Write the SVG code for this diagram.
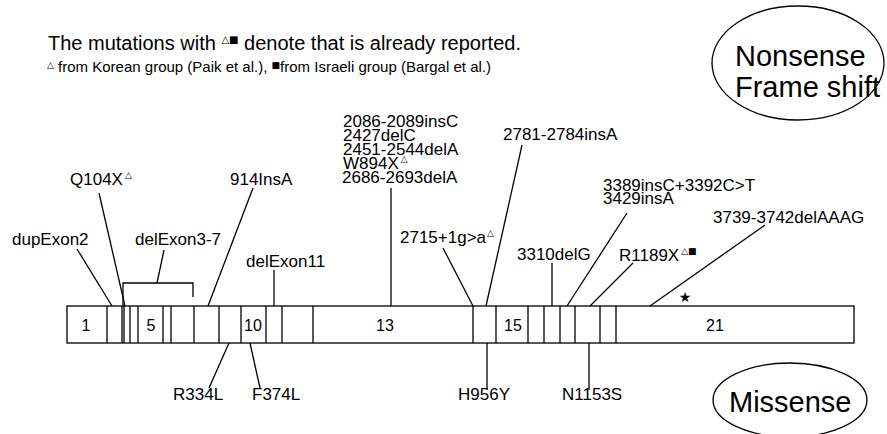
<svg xmlns="http://www.w3.org/2000/svg" width="887" height="434" viewBox="0 0 887 434">
<style>
text{font-family:"Liberation Sans",Arial,sans-serif;fill:#000}
.lb{font-size:17px}
.ex{font-size:16px;text-anchor:middle}
.big{font-size:29px}
.sym{font-family:"DejaVu Sans",sans-serif}
.ln{stroke:#000;stroke-width:1.3;fill:none}
</style>
<rect width="887" height="434" fill="#fff"/>
<g id="legend">
<text x="48" y="50" font-size="20">The mutations with <tspan class="sym" font-size="10" dy="-7">△■</tspan><tspan dy="7"> denote that is already reported.</tspan></text>
<text x="47" y="72" font-size="15"><tspan class="sym" font-size="9" dy="-4">△</tspan><tspan dy="4"> from Korean group (Paik et al.), </tspan><tspan class="sym" font-size="9" dy="-4">■</tspan><tspan dy="4">from Israeli group (Bargal et al.)</tspan></text>
</g>
<g id="nonsense-key">
<ellipse cx="798" cy="63" rx="86" ry="57" class="ln"/>
<text class="big" x="735" y="66">Nonsense</text>
<text class="big" x="735" y="97">Frame shift</text>
</g>
<g id="missense-key">
<ellipse cx="790" cy="400" rx="77" ry="37" class="ln"/>
<text class="big" x="729" y="412">Missense</text>
</g>
<g id="gene">
<rect x="67" y="306" width="787" height="37" class="ln" fill="#fff"/>
<path class="ln" d="M107 306V343M122 306V343M124 306V343M130 306V343M138 306V343M163 306V343M171 306V343M194 306V343M219 306V343M241 306V343M266 306V343M282 306V343M313 306V343M473 306V343M496 306V343M528 306V343M544 306V343M560 306V343M575 306V343M600 306V343M616 306V343"/>
<text class="ex" x="86" y="331">1</text>
<text class="ex" x="151" y="331">5</text>
<text class="ex" x="253" y="331">10</text>
<text class="ex" x="385" y="331">13</text>
<text class="ex" x="513" y="331">15</text>
<text class="ex" x="715" y="331">21</text>
<text x="685" y="302" font-size="14" text-anchor="middle" class="sym">★</text>
</g>
<g id="connectors" class="ln">
<path d="M77 249L112 306"/>
<path d="M99 193L125 306"/>
<path d="M123 306V283H193V297M157 283L164 250"/>
<path d="M253 188L208 306"/>
<path d="M274 270V306"/>
<path d="M391 188V306"/>
<path d="M443 248L473 306"/>
<path d="M522 145L486 306"/>
<path d="M552 263V306"/>
<path d="M627 213L567 306"/>
<path d="M633 263L590 306"/>
<path d="M765 225L650 306"/>
<path d="M229 343L209 388"/>
<path d="M250 343L260 388"/>
<path d="M487 343V390"/>
<path d="M589 343V390"/>
</g>
<g id="dupExon2"><text class="lb" x="12" y="245">dupExon2</text></g>
<g id="Q104X"><text class="lb" x="70" y="185">Q104X<tspan class="sym" font-size="9" dx="2" dy="-7">△</tspan></text></g>
<g id="delExon3-7"><text class="lb" x="135" y="245">delExon3-7</text></g>
<g id="ins914"><text class="lb" x="230" y="185">914InsA</text></g>
<g id="delExon11"><text class="lb" x="246" y="267">delExon11</text></g>
<g id="cluster13">
<text class="lb" x="343" y="127">2086-2089insC</text>
<text class="lb" x="343" y="141">2427delC</text>
<text class="lb" x="343" y="155">2451-2544delA</text>
<text class="lb" x="343" y="169">W894X<tspan class="sym" font-size="9" dx="2" dy="-7">△</tspan></text>
<text class="lb" x="342" y="183">2686-2693delA</text>
</g>
<g id="splice2715"><text class="lb" x="400" y="243">2715+1g&gt;a<tspan class="sym" font-size="9" dx="1" dy="-7">△</tspan></text></g>
<g id="ins2781"><text class="lb" x="503" y="140">2781-2784insA</text></g>
<g id="del3310"><text class="lb" x="517" y="260">3310delG</text></g>
<g id="ins3389">
<text class="lb" x="603" y="191">3389insC+3392C&gt;T</text>
<text class="lb" x="603" y="204">3429insA</text>
</g>
<g id="R1189X"><text class="lb" x="619" y="261">R1189X<tspan class="sym" font-size="9" dx="2" dy="-7">△■</tspan></text></g>
<g id="del3739"><text class="lb" x="713" y="223">3739-3742delAAAG</text></g>
<g id="R334L"><text class="lb" x="173" y="400">R334L</text></g>
<g id="F374L"><text class="lb" x="252" y="400">F374L</text></g>
<g id="H956Y"><text class="lb" x="458" y="400">H956Y</text></g>
<g id="N1153S"><text class="lb" x="562" y="400">N1153S</text></g>
</svg>
